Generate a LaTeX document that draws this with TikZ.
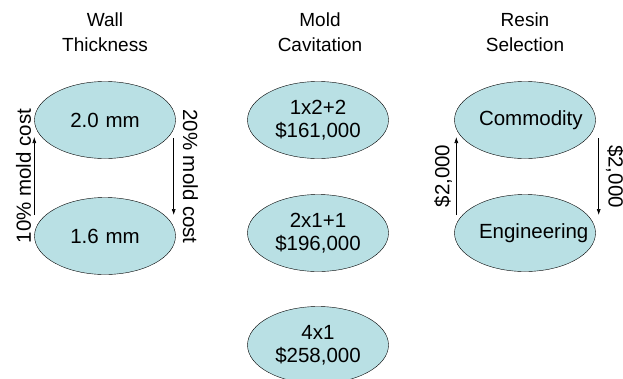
\documentclass[tikz,border=0pt]{standalone}
\usepackage{fontspec}
\setmainfont{Liberation Sans}
\usetikzlibrary{arrows.meta,positioning,shapes.geometric}
\definecolor{optfill}{RGB}{185,224,228}

\begin{document}
\begin{tikzpicture}[
  x=1pt,y=-1pt,
  opt/.style={draw, ellipse, fill=optfill, minimum width=141pt, minimum height=77pt, inner sep=0pt, text width=92pt, align=center, font=\fontsize{20.5}{23}\selectfont},
  head/.style={align=center, font=\fontsize{19}{25}\selectfont},
  lbl/.style={font=\fontsize{20.5}{22}\selectfont, inner sep=0pt},
  arr/.style={-{Latex[length=6pt,width=4pt]}, semithick}
]
\useasboundingbox (0,0) rectangle (623,378);
\node[head] (wallhead) at (105,32) {Wall\\Thickness};
\node[head] (cavhead) at (320,32) {Mold\\Cavitation};
\node[head] (resinhead) at (525,32) {Resin\\Selection};
\node[opt] (thick) at (105,120) {2.0 mm};
\node[opt] (thin) at (105,236) {1.6 mm};
\node[opt] (cav1) at (318,120) {1x2+2\\\$161,000};
\node[opt] (cav2) at (318,233) {2x1+1\\\$196,000};
\node[opt] (cav3) at (318,345) {4x1\\\$258,000};
\node[opt] (commodity) at (525,120) {Commodity};
\node[opt] (engineering) at (525,233) {Engineering};
\draw[arr] ([yshift=21pt]thin.west) -- node[midway, sloped, above=3pt, lbl] {10\% mold cost} ([yshift=-17pt]thick.west);
\draw[arr] ([xshift=-2pt,yshift=-18pt]thick.east) -- node[midway, sloped, above=9pt, lbl] {20\% mold cost} ([xshift=-2pt,yshift=21pt]thin.east);
\draw[arr] ([xshift=2pt,yshift=18pt]engineering.west) -- node[midway, sloped, above=4pt, lbl] {\$2,000} ([xshift=2pt,yshift=-17pt]commodity.west);
\draw[arr] ([xshift=3pt,yshift=-18pt]commodity.east) -- node[midway, sloped, above=7pt, lbl] {\$2,000} ([xshift=3pt,yshift=18pt]engineering.east);
\end{tikzpicture}
\end{document}
